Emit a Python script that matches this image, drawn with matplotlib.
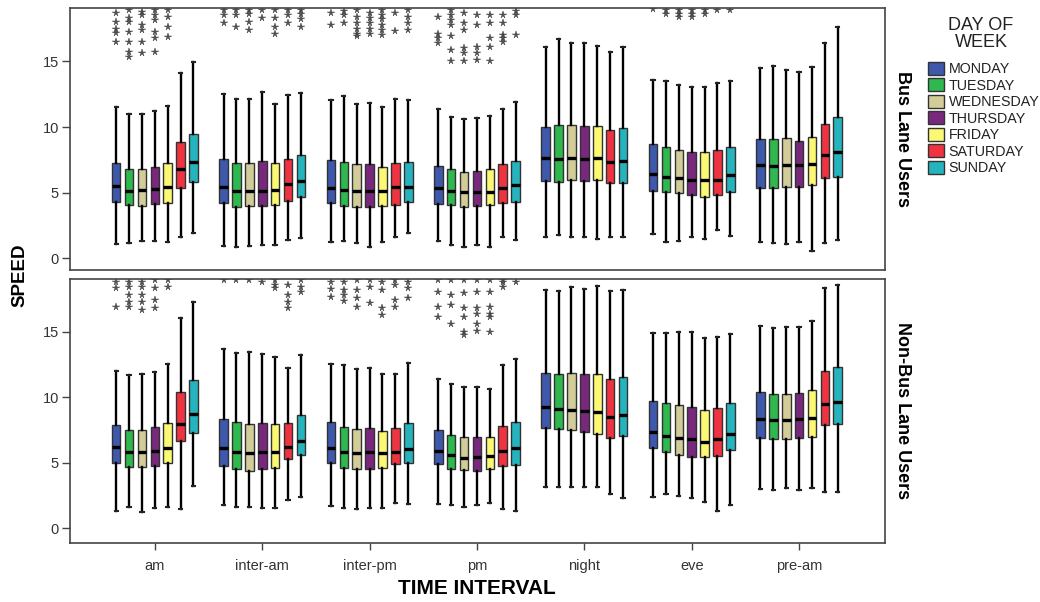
import matplotlib
matplotlib.use("Agg")
import matplotlib.pyplot as plt
from matplotlib.patches import Patch

plt.rcParams['font.family'] = ['Liberation Sans', 'DejaVu Sans']

intervals = ["am", "inter-am", "inter-pm", "pm", "night", "eve", "pre-am"]
days = ["MONDAY", "TUESDAY", "WEDNESDAY", "THURSDAY", "FRIDAY", "SATURDAY", "SUNDAY"]
day_colors = ["#3E58AC", "#2EB84E", "#D2CC98", "#79287D", "#FBF873", "#EF3340", "#25B4BE"]
panels = ["Bus Lane Users", "Non-Bus Lane Users"]

# ---------------- Bus Lane Users (rows: interval, cols: day) ----------------
bus_low = [
    [1.07, 1.14, 1.29, 1.34, 1.22, 1.65, 1.90],
    [0.94, 0.84, 0.96, 1.01, 1.04, 1.39, 1.55],
    [1.26, 1.34, 1.19, 0.88, 1.26, 1.65, 1.90],
    [1.34, 1.04, 0.88, 0.99, 0.88, 1.60, 1.39],
    [1.65, 1.75, 1.60, 1.60, 1.45, 1.65, 1.60],
    [1.83, 1.22, 1.34, 1.60, 1.45, 2.16, 1.70],
    [1.26, 1.14, 1.07, 1.22, 0.58, 1.14, 1.39],
]
bus_q1 = [
    [4.26, 4.04, 3.98, 4.11, 4.23, 5.38, 5.81],
    [4.19, 3.93, 3.98, 3.98, 4.04, 4.34, 4.65],
    [4.23, 4.01, 3.93, 3.93, 3.98, 4.06, 4.26],
    [4.14, 4.06, 3.93, 3.98, 4.04, 4.19, 4.29],
    [5.89, 5.79, 5.96, 5.89, 5.94, 5.76, 5.76],
    [5.15, 5.05, 4.95, 4.82, 4.69, 4.82, 5.05],
    [5.38, 5.33, 5.45, 5.45, 5.56, 6.09, 6.21],
]
bus_med = [
    [5.51, 5.15, 5.20, 5.30, 5.45, 6.78, 7.33],
    [5.41, 5.15, 5.13, 5.15, 5.20, 5.66, 5.89],
    [5.33, 5.20, 5.15, 5.15, 5.13, 5.41, 5.41],
    [5.38, 5.13, 5.03, 5.05, 5.07, 5.38, 5.56],
    [7.66, 7.56, 7.64, 7.59, 7.64, 7.31, 7.39],
    [6.44, 6.19, 6.09, 5.99, 5.96, 5.94, 6.32],
    [7.13, 7.03, 7.08, 7.11, 7.18, 7.87, 8.12],
]
bus_q3 = [
    [7.24, 6.83, 6.78, 6.98, 7.24, 8.88, 9.47],
    [7.54, 7.24, 7.24, 7.41, 7.28, 7.56, 7.87],
    [7.49, 7.33, 7.16, 7.16, 6.98, 7.28, 7.33],
    [7.05, 6.78, 6.60, 6.63, 6.78, 7.16, 7.41],
    [10.02, 10.15, 10.13, 10.08, 10.10, 9.77, 9.90],
    [8.68, 8.50, 8.25, 8.12, 8.07, 8.25, 8.50],
    [9.06, 9.06, 9.19, 8.96, 9.22, 10.23, 10.78],
]
bus_high = [
    [11.55, 10.99, 10.99, 11.24, 11.60, 14.14, 14.95],
    [12.49, 12.11, 12.16, 12.64, 11.75, 12.44, 12.61],
    [12.06, 12.36, 11.75, 11.80, 11.50, 12.11, 12.03],
    [11.34, 10.74, 10.59, 10.66, 10.84, 11.34, 11.93],
    [16.12, 16.68, 16.38, 16.38, 16.19, 15.74, 16.12],
    [13.58, 13.53, 13.18, 13.02, 13.02, 13.38, 13.53],
    [14.52, 14.65, 14.34, 14.19, 14.59, 16.42, 17.59],
]
bus_out = [
    [[18.66, 18.02, 17.44, 17.13, 16.5], [18.9, 18.28, 18.02, 17.26, 16.5, 15.74, 15.3],
     [18.78, 18.53, 17.77, 17.39, 16.5, 15.66], [18.91, 18.53, 18.15, 17.26, 16.75, 15.74],
     [18.91, 18.4, 17.64, 16.88], [], []],
    [[18.9, 18.5, 17.9], [18.9, 18.5, 17.6], [18.9, 18.6, 18.0, 17.4], [18.9, 18.3],
     [18.9, 18.3, 17.6, 17.1], [18.9, 18.5, 17.9], [18.9, 18.6, 18.2, 17.6]],
    [[18.7, 17.8], [18.8, 18.5, 17.9], [18.9, 18.4, 17.9, 17.5, 17.1, 16.9],
     [18.7, 18.3, 17.9, 17.5, 17.1], [18.9, 18.5, 18.2, 17.8, 17.4, 17.0],
     [18.7, 17.3], [18.9, 18.4, 17.9, 17.4]],
    [[18.4, 17.1, 16.75, 16.4], [18.9, 18.5, 18.15, 17.8, 16.9, 15.9, 15.0],
     [18.7, 17.9, 17.4, 16.0, 15.6, 15.0], [18.5, 17.8, 16.1, 15.6, 15.1],
     [18.5, 17.9, 16.75, 16.1, 15.05], [18.5, 17.9, 17.0, 16.75, 16.5], [18.8, 18.5, 17.0]],
    [[], [], [], [], [], [], []],
    [[18.95], [18.9, 18.6], [18.9, 18.6, 18.4], [18.9, 18.6, 18.4], [18.9, 18.6], [18.9], [18.9]],
    [[], [], [], [], [], [], []],
]

# ---------------- Non-Bus Lane Users ----------------
non_low = [
    [1.32, 1.63, 1.22, 1.53, 1.60, 1.47, 3.25],
    [1.78, 1.60, 1.60, 1.53, 1.57, 2.16, 2.39],
    [1.73, 1.53, 1.47, 1.53, 1.53, 1.93, 1.83],
    [1.88, 1.78, 1.63, 1.78, 1.96, 1.47, 1.32],
    [3.13, 3.18, 3.18, 3.18, 3.18, 2.64, 2.34],
    [2.41, 2.60, 2.49, 2.34, 2.03, 1.32, 1.78],
    [3.00, 2.93, 3.06, 2.93, 3.10, 2.75, 2.80],
]
non_q1 = [
    [5.01, 4.66, 4.66, 4.78, 5.01, 6.69, 7.30],
    [4.78, 4.51, 4.38, 4.51, 4.58, 5.27, 5.60],
    [4.97, 4.63, 4.51, 4.53, 4.63, 4.89, 4.97],
    [4.89, 4.53, 4.43, 4.40, 4.53, 4.78, 4.84],
    [7.64, 7.56, 7.51, 7.38, 7.20, 6.88, 7.07],
    [6.11, 5.81, 5.60, 5.47, 5.42, 5.55, 5.98],
    [6.92, 6.82, 6.80, 6.88, 6.95, 7.87, 7.97],
]
non_med = [
    [6.19, 5.81, 5.81, 5.91, 6.11, 7.94, 8.71],
    [6.16, 5.83, 5.78, 5.85, 5.81, 6.23, 6.67],
    [6.11, 5.85, 5.75, 5.81, 5.73, 5.85, 6.03],
    [5.91, 5.58, 5.39, 5.45, 5.50, 5.93, 6.11],
    [9.29, 9.11, 9.04, 8.96, 8.86, 8.53, 8.66],
    [7.33, 7.05, 6.88, 6.82, 6.62, 6.82, 7.23],
    [8.35, 8.25, 8.30, 8.35, 8.40, 9.50, 9.63],
]
non_q3 = [
    [7.89, 7.51, 7.53, 7.72, 8.07, 10.44, 11.33],
    [8.37, 8.10, 7.97, 8.07, 7.99, 8.07, 8.66],
    [8.10, 7.76, 7.59, 7.64, 7.46, 7.69, 8.04],
    [7.51, 7.13, 6.95, 7.00, 7.00, 7.84, 8.10],
    [11.89, 11.79, 11.89, 11.79, 11.76, 11.41, 11.54],
    [9.73, 9.55, 9.42, 9.27, 9.06, 9.17, 9.57],
    [10.44, 10.26, 10.28, 10.34, 10.57, 12.04, 12.29],
]
non_high = [
    [12.04, 11.71, 11.81, 11.96, 12.55, 16.04, 17.31],
    [13.70, 13.37, 13.45, 13.34, 13.06, 12.22, 13.24],
    [12.55, 12.48, 12.17, 12.27, 11.76, 11.81, 12.60],
    [11.38, 11.00, 10.79, 10.82, 10.64, 12.48, 12.93],
    [18.20, 18.13, 18.46, 18.26, 18.54, 18.15, 18.20],
    [14.90, 14.90, 15.02, 14.97, 14.51, 14.59, 14.84],
    [15.48, 15.28, 15.36, 15.36, 15.86, 18.33, 18.59],
]
non_out = [
    [[18.84, 18.33, 16.93], [18.84, 18.46, 17.82, 17.31, 16.93], [18.84, 18.46, 17.82, 17.31, 16.68],
     [18.97, 18.33, 17.44, 16.81], [18.97, 18.46], [], []],
    [[19.0], [19.0], [19.0], [18.84], [18.97, 18.59, 18.33], [18.59, 17.82, 17.31, 16.81],
     [18.97, 18.46, 18.08]],
    [[18.8, 18.3, 17.7], [18.84, 18.2, 17.8, 17.4], [18.97, 18.2, 17.6, 16.9], [18.97, 18.46, 17.2],
     [18.84, 18.2, 16.8, 16.3], [18.97, 18.6, 17.44, 16.93], [18.84, 18.33, 17.57]],
    [[18.97, 18.08, 16.93, 16.17], [18.97, 17.82, 17.06, 15.57], [18.97, 17.95, 16.81, 16.17, 15.02, 14.8],
     [18.97, 18.08, 16.81, 16.4, 15.6, 15.1], [18.97, 18.08, 16.93, 16.4, 16.17, 15.02],
     [19.0, 18.84, 18.46], [18.84]],
    [[], [], [], [], [], [], []],
    [[], [], [], [], [], [], []],
    [[], [], [], [], [], [], []],
]

yticks = [0, 5, 10, 15]

W, H = 1040, 602
fig = plt.figure(figsize=(W / 100, H / 100), dpi=100)
ax1 = fig.add_axes([70 / W, 1 - 270 / H, 815 / W, (270 - 8.3) / H])
ax2 = fig.add_axes([70 / W, 1 - 543.3 / H, 815 / W, (543.3 - 279.3) / H])

frame_col = "#444444"


def draw(ax, low, q1, med, q3, high, outs, ylim):
    for i in range(len(intervals)):
        for d in range(len(days)):
            st = [dict(whislo=low[i][d], q1=q1[i][d], med=med[i][d], q3=q3[i][d],
                       whishi=high[i][d], fliers=outs[i][d])]
            ax.bxp(st, positions=[i + (d - 3) * 0.12], widths=0.08, capwidths=0.03,
                   patch_artist=True, manage_ticks=False,
                   boxprops=dict(facecolor=day_colors[d], edgecolor="#333333", linewidth=1.0),
                   whiskerprops=dict(color="black", linewidth=1.7),
                   capprops=dict(color="#222222", linewidth=1.5),
                   medianprops=dict(color="black", linewidth=2.4),
                   flierprops=dict(marker="*", markersize=5.5, markerfacecolor="#555555",
                                   markeredgecolor="#333333", markeredgewidth=0.3,
                                   linestyle="none"))
    ax.set_xlim(-0.79, 6.80)
    ax.set_ylim(*ylim)
    ax.set_yticks(yticks)
    ax.tick_params(axis="y", direction="out", length=6, width=1, color=frame_col,
                   labelsize=10.5, labelcolor="#333333", pad=2)
    for s in ax.spines.values():
        s.set_color(frame_col)
        s.set_linewidth(1.2)


draw(ax1, bus_low, bus_q1, bus_med, bus_q3, bus_high, bus_out, (-0.89, 19.04))
draw(ax2, non_low, non_q1, non_med, non_q3, non_high, non_out, (-1.15, 19.02))

ax1.set_xticks([])
ax2.set_xticks(range(len(intervals)))
ax2.set_xticklabels(intervals)
ax2.tick_params(axis="x", direction="out", length=5, width=1, color=frame_col,
                labelsize=10.5, labelcolor="#333333", pad=6)

fig.text(903 / W, 1 - 139 / H, panels[0], rotation=-90, ha="center", va="center",
         fontweight="bold", fontsize=13)
fig.text(903 / W, 1 - 411 / H, panels[1], rotation=-90, ha="center", va="center",
         fontweight="bold", fontsize=13)
fig.text(20 / W, 1 - 275 / H, "SPEED", rotation=90, ha="center", va="center",
         fontweight="bold", fontsize=13.5)
fig.text(477 / W, 1 - 588 / H, "TIME INTERVAL", ha="center", va="center",
         fontweight="bold", fontsize=15)

# legend title drawn separately for exact spacing
fig.text(981 / W, 1 - 34 / H, "DAY OF\nWEEK", ha="center", va="center", fontsize=13,
         color="#222222", linespacing=1.0)
handles = [Patch(facecolor=c, edgecolor="#333333", linewidth=1.0) for c in day_colors]
leg = fig.legend(handles, days, loc="upper left",
                 bbox_to_anchor=(918 / W, 1 - 52 / H), frameon=False, fontsize=10.3,
                 handlelength=1.15, handleheight=1.0, handletextpad=0.3,
                 labelspacing=0.15, borderpad=0.2)
for t in leg.get_texts():
    t.set_color("#222222")

fig.savefig("out.png", dpi=100)
